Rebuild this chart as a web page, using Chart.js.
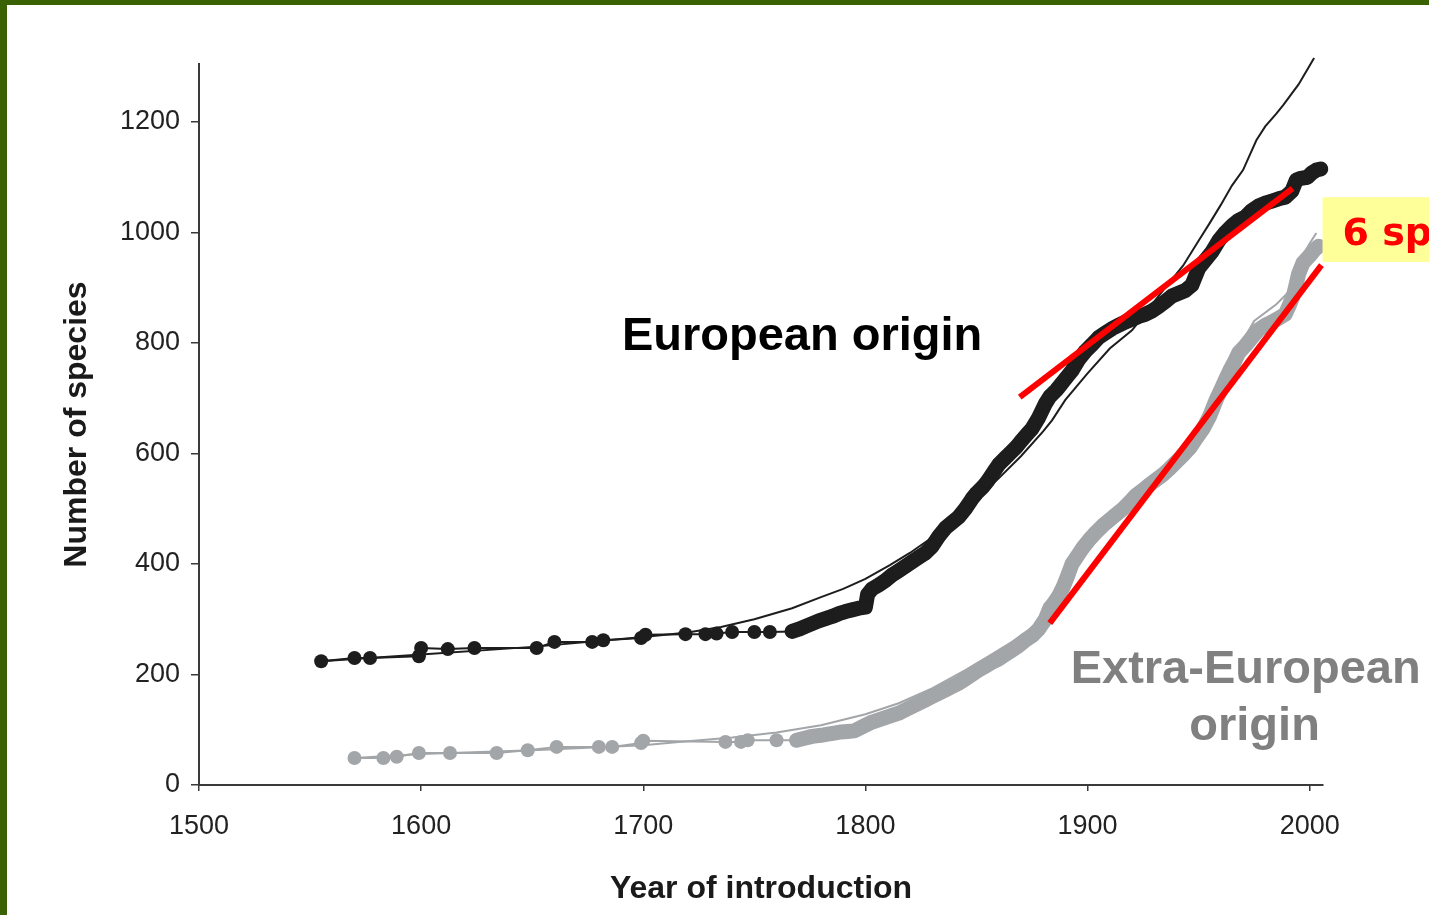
<!DOCTYPE html>
<html>
<head>
<meta charset="utf-8">
<script src="https://cdn.jsdelivr.net/npm/chart.js@4.4.1/dist/chart.umd.min.js"></script>
<style>
  html, body { margin: 0; padding: 0; background: #fff; overflow: hidden; }
  canvas { display: block; }
</style>
</head>
<body>
<canvas id="chart" width="1429" height="915"></canvas>
<script>
// Cumulative number of alien species by year of introduction: [year, species]
const europeanObserved = [
  [1555,224],[1570,230],[1577,230],[1599,233],[1600,248],[1612,246],[1624,248],[1652,248],
  [1660,259],[1677,259],[1682,262],[1699,266],[1701,272],[1719,273],[1728,273],[1733,274],
  [1740,277],[1750,277],[1757,277],[1767,278],[1770,282],[1773,287],[1776,292],[1779,297],
  [1782,301],[1785,305],[1788,310],[1791,314],[1794,317],[1797,320],[1800,322],[1801,345],
  [1803,355],[1806,362],[1809,370],[1812,380],[1815,388],[1818,396],[1821,404],[1824,412],
  [1827,420],[1830,432],[1833,450],[1836,465],[1839,475],[1842,485],[1845,500],[1848,518],
  [1850,528],[1853,540],[1855,550],[1858,568],[1860,580],[1863,592],[1865,600],[1868,612],
  [1870,622],[1873,636],[1875,645],[1878,665],[1881,690],[1883,703],[1886,715],[1888,725],
  [1890,735],[1893,750],[1896,770],[1899,785],[1902,797],[1905,810],[1908,818],[1911,826],
  [1914,832],[1917,838],[1920,843],[1923,848],[1926,852],[1929,858],[1932,866],[1935,875],
  [1938,885],[1941,890],[1944,895],[1947,905],[1950,935],[1953,950],[1956,965],[1959,985],
  [1962,1000],[1965,1012],[1968,1022],[1971,1028],[1974,1040],[1977,1048],[1980,1053],
  [1983,1057],[1986,1061],[1989,1064],[1992,1075],[1994,1095],[1996,1098],[1999,1100],
  [2001,1108],[2003,1113],[2005,1115]
];

const europeanModel = [
  [1555,224],[1600,236],[1650,250],[1700,268],[1720,276],[1735,286],[1750,300],[1767,320],
  [1780,340],[1790,355],[1800,373],[1811,398],[1820,420],[1830,448],[1840,478],[1850,518],
  [1860,555],[1870,595],[1880,640],[1884,660],[1890,697],[1900,745],[1910,790],[1920,823],
  [1925,848],[1930,875],[1940,925],[1943,940],[1950,985],[1955,1017],[1960,1050],
  [1965,1085],[1970,1113],[1976,1167],[1980,1192],[1985,1215],[1988,1230],[1995,1268],
  [2002,1316]
];

const extraObserved = [
  [1570,49],[1583,49],[1589,51],[1599,58],[1613,58],[1634,58],[1648,63],[1661,69],
  [1680,69],[1686,69],[1699,76],[1700,80],[1737,78],[1744,78],[1747,81],[1760,81],
  [1769,81],[1773,85],[1776,88],[1780,90],[1783,92],[1786,94],[1789,96],[1792,97],
  [1795,98],[1798,104],[1800,108],[1803,114],[1806,118],[1809,122],[1812,126],[1815,130],
  [1818,136],[1821,142],[1824,148],[1827,154],[1830,160],[1833,166],[1836,172],[1839,178],
  [1842,184],[1845,192],[1848,200],[1851,208],[1854,215],[1857,222],[1860,228],[1863,236],
  [1866,244],[1869,252],[1872,262],[1875,270],[1878,282],[1881,300],[1883,320],[1885,330],
  [1887,342],[1889,358],[1891,378],[1893,400],[1895,412],[1898,430],[1901,445],[1904,458],
  [1907,470],[1910,480],[1913,490],[1916,500],[1919,512],[1922,525],[1925,534],[1928,544],
  [1931,553],[1934,562],[1937,573],[1940,585],[1943,597],[1946,610],[1949,628],[1952,645],
  [1955,668],[1958,698],[1960,715],[1962,733],[1964,750],[1966,765],[1968,782],[1971,795],
  [1974,810],[1977,824],[1980,832],[1983,838],[1986,845],[1989,852],[1991,870],[1993,890],
  [1995,925],[1997,945],[2000,958],[2002,968],[2004,975]
];

const extraModel = [
  [1570,49],[1600,56],[1650,63],[1700,72],[1716,78],[1740,86],[1760,95],[1780,108],
  [1800,128],[1815,148],[1830,175],[1845,208],[1855,232],[1866,259],[1875,285],[1885,330],
  [1895,405],[1905,462],[1915,505],[1925,545],[1935,580],[1945,620],[1955,680],[1965,770],
  [1975,840],[1985,870],[1990,890],[1995,945],[2000,980],[2003,999]
];

// Straight trend segments
const europeanTrend = [[1869.5,702],[1992.3,1080]];
const extraTrend = [[1883,293],[2005.3,941]];

// Axis ranges and tick labels
const yearRange = [1500, 2006];
const speciesRange = [0, 1305];
const yearTicks = [1500, 1600, 1700, 1800, 1900, 2000];
const speciesTicks = [0, 200, 400, 600, 800, 1000, 1200];

const toPoints = rows => rows.map(([x, y]) => ({ x, y }));

const BLACK = '#1d1d1d';
const GREY = '#a3a6a9';
const FONT = '"Liberation Sans", Arial, sans-serif';

// Closely spaced records merge into one thick band
const bandWidth = ctx => {
  const x0 = ctx.p0.parsed.x, x1 = ctx.p1.parsed.x;
  return (x0 >= 1765 && x1 - x0 <= 4) ? 15 : 2;
};

const decor = {
  id: 'decor',
  beforeDraw(chart) {
    const c = chart.ctx;
    c.save();
    c.fillStyle = '#ffffff';
    c.fillRect(0, 0, chart.width, chart.height);
    c.fillStyle = '#3a6202';
    c.fillRect(0, 0, chart.width, 5);
    c.fillRect(0, 0, 7, chart.height);
    c.restore();
  },
  afterDraw(chart) {
    const c = chart.ctx;
    const { x, y } = chart.scales;
    c.save();
    c.textBaseline = 'alphabetic';

    c.font = 'bold 47px ' + FONT;
    c.fillStyle = '#000000';
    c.textAlign = 'left';
    c.fillText('European origin', x.getPixelForValue(1690.4), y.getPixelForValue(787));

    c.fillStyle = '#808080';
    c.fillText('Extra-European', x.getPixelForValue(1892.4), y.getPixelForValue(184.6));
    c.textAlign = 'center';
    c.fillText('origin', x.getPixelForValue(1975.2), y.getPixelForValue(81.4));

    // rate callout
    const bx = x.getPixelForValue(2005.8);
    const by0 = y.getPixelForValue(1064);
    const by1 = y.getPixelForValue(946.6);
    c.fillStyle = '#ffff99';
    c.fillRect(bx, by0, chart.width - bx, by1 - by0);
    c.fillStyle = '#ff0000';
    c.textAlign = 'left';
    c.font = 'bold 38px "DejaVu Sans", Verdana, sans-serif';
    c.fillText('6 species/year', x.getPixelForValue(2014.8), y.getPixelForValue(977));
    c.restore();
  }
};

new Chart(document.getElementById('chart'), {
  type: 'line',
  data: {
    datasets: [
      {
        data: toPoints(europeanTrend),
        borderColor: '#ff0000', borderWidth: 6, borderCapStyle: 'butt',
        pointRadius: 0, order: 0, clip: false
      },
      {
        data: toPoints(extraTrend),
        borderColor: '#ff0000', borderWidth: 6, borderCapStyle: 'butt',
        pointRadius: 0, order: 0, clip: false
      },
      {
        data: toPoints(europeanModel),
        borderColor: BLACK, borderWidth: 2,
        pointRadius: 0, order: 1, clip: false
      },
      {
        data: toPoints(extraModel),
        borderColor: GREY, borderWidth: 2,
        pointRadius: 0, order: 1, clip: false
      },
      {
        data: toPoints(europeanObserved),
        borderColor: BLACK, borderWidth: 2,
        borderCapStyle: 'round', borderJoinStyle: 'round',
        segment: { borderWidth: bandWidth },
        pointRadius: 7, pointBorderWidth: 0,
        pointBackgroundColor: BLACK, order: 2, clip: false
      },
      {
        data: toPoints(extraObserved),
        borderColor: GREY, borderWidth: 2,
        borderCapStyle: 'round', borderJoinStyle: 'round',
        segment: { borderWidth: bandWidth },
        pointRadius: 7, pointBorderWidth: 0,
        pointBackgroundColor: GREY, order: 2, clip: false
      }
    ]
  },
  options: {
    responsive: false,
    animation: false,
    events: [],
    layout: { padding: { left: 0, right: 106, top: 64, bottom: 0 } },
    plugins: { legend: { display: false }, tooltip: { enabled: false } },
    elements: { line: { tension: 0 } },
    scales: {
      x: {
        type: 'linear',
        min: yearRange[0], max: yearRange[1],
        border: { color: '#3a3a3a', width: 2 },
        grid: { drawOnChartArea: false, drawTicks: true, tickLength: 6, color: '#3a3a3a', lineWidth: 1.5 },
        afterBuildTicks: s => { s.ticks = yearTicks.map(value => ({ value })); },
        ticks: {
          padding: 19, color: '#222', font: { family: FONT, size: 27 },
          callback: v => String(v)
        },
        title: {
          display: true, text: 'Year of introduction', color: '#1a1a1a',
          font: { family: FONT, size: 32, weight: 'bold' },
          padding: { top: 0, bottom: 7 }
        },
        afterFit: s => { s.height = 130; }
      },
      y: {
        type: 'linear',
        min: speciesRange[0], max: speciesRange[1],
        border: { color: '#3a3a3a', width: 2 },
        grid: { drawOnChartArea: false, drawTicks: true, tickLength: 8, color: '#3a3a3a', lineWidth: 1.5 },
        afterBuildTicks: s => { s.ticks = speciesTicks.map(value => ({ value })); },
        ticks: {
          padding: 11, color: '#222', font: { family: FONT, size: 27 },
          callback: v => String(v)
        },
        title: {
          display: true, text: 'Number of species', color: '#1a1a1a',
          font: { family: FONT, size: 32, weight: 'bold' },
          padding: { top: 58, bottom: 0 }
        },
        afterFit: s => { s.width = 199; }
      }
    }
  },
  plugins: [decor]
});
</script>
</body>
</html>
